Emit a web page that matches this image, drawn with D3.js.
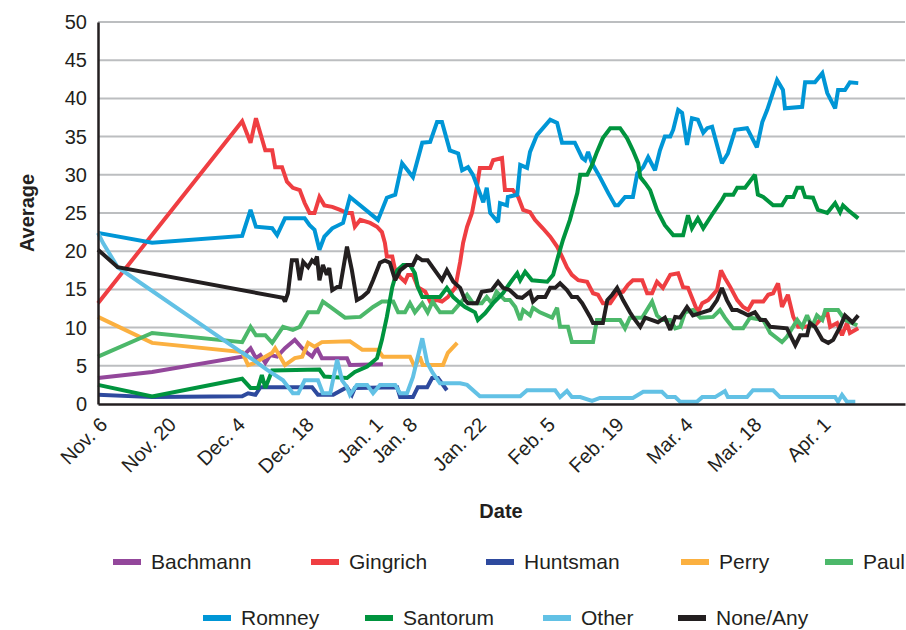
<!DOCTYPE html>
<html>
<head>
<meta charset="utf-8">
<script src="https://cdn.jsdelivr.net/npm/d3@7"></script>
<style>
  body { margin: 0; background: #fff; }
  svg { display: block; }
  text { font-family: "Liberation Sans", Arial, Helvetica, sans-serif; fill: #231f20; }
</style>
</head>
<body>
<script>
// x values are days since Nov. 6 (2011), y values are the poll average
var tickDays = [0, 14, 28, 42, 56, 63, 77, 91, 105, 119, 133, 147],
    tickLabels = ["Nov. 6", "Nov. 20", "Dec. 4", "Dec. 18", "Jan. 1", "Jan. 8", "Jan. 22",
                  "Feb. 5", "Feb. 19", "Mar. 4", "Mar. 18", "Apr. 1"],
    yTicks = [0, 5, 10, 15, 20, 25, 30, 35, 40, 45, 50];

var bachmann = [[0,3.4],[11,4.2],[29.3,6.2],[31,7.3],[32.1,6],[33,6.4],[34,5.4],[35,6.4],[36.4,6.2],
  [38,7.3],[40,8.4],[41.5,7.3],[42.5,6.7],[43.5,6.2],[44.5,7.3],[45.5,6],[50.6,6],[51.2,5.1],[57.9,5.2]];

var gingrich = [[0,13.2],[29.3,37],[31,34.2],[32.1,37.4],[34,33.2],[35.4,33.2],[36,31],[37.4,31],[38.4,29.1],
  [39.6,28.3],[41,28],[42,26.3],[43,25],[44,25],[45,27.1],[46,26],[47.6,25.8],[49.2,25.4],[50.6,25],[51.6,25],
  [52.2,23.2],[53.3,24.1],[55.3,23.7],[56.7,23.2],[57.7,22.5],[58.3,21.1],[58.7,19.3],[59.8,19.3],[60.4,17.5],
  [61.4,16.6],[62.4,16],[63,16.9],[64,16.9],[65,15.3],[66.5,14.7],[67.5,13.4],[68.9,13.6],[69.9,13.4],[71.1,14],
  [72.6,15.2],[73.6,18.6],[74.2,21.1],[75,23.2],[76,25],[77,28.4],[77.6,30.9],[79.7,30.9],[80.3,31.9],[82.1,32.2],
  [82.7,28],[84.3,28],[85.4,27.1],[86.4,25.4],[87.8,25.1],[88.8,24.1],[90.4,23],[91.9,21.9],[93.3,20.6],[94.3,19.3],
  [95.3,17.9],[96.3,16.9],[97.6,16.2],[99.4,16],[100.6,14.5],[101.6,14.3],[102.6,13.2],[104.1,13.2],[105.5,14.5],
  [106.7,14.7],[107.7,15.6],[108.7,16.2],[110.6,16.2],[111.6,14.5],[112.6,14.5],[113.6,16],[114.8,15.2],[116.3,16.9],
  [117.9,17.1],[118.9,15.3],[119.9,15.2],[120.9,13.6],[121.9,12],[122.8,13.2],[124,13.6],[125.8,14.9],[126.6,17.5],
  [127.4,16.5],[128.5,15.3],[129.9,13.6],[131.1,12.7],[132.1,12.3],[133.1,13.4],[135.2,13.4],[136.2,14.3],[137.2,14.5],
  [138.2,15.8],[139,12.7],[140.2,14.3],[141.3,11.4],[142.3,10.1],[143.7,10.1],[145.7,10.3],[148.2,12],[148.8,10.1],
  [150.2,10.6],[151.2,9],[152.2,10.6],[152.8,9.3],[154.5,9.9]];

var huntsman = [[0,1.2],[11,0.9],[29.3,1],[30.5,1.4],[32,1.2],[33,2.2],[43.5,2.2],[44.7,1.2],[47.8,1.2],[50.6,2.2],
  [51.6,1.2],[52.2,2.1],[60.8,2.2],[61.4,0.9],[64,0.9],[65,2.2],[66.9,2.2],[67.9,3.4],[69.1,3.4],[70.9,1.8]];

var perry = [[0,11.4],[11,8],[29.3,6.8],[30.5,5.1],[32,5.4],[34,6.2],[35.4,6.7],[36,7.3],[38,5.1],[40,6],[41.5,6.2],
  [42.7,8],[44,7.5],[45.5,8.1],[51.2,8.2],[53.7,7.1],[56.9,7.1],[57.9,6.2],[63.4,6.2],[64.4,4.8],[65.4,6.2],[66,5.1],
  [70.1,5.1],[71.1,6.7],[73,8]];

var paul = [[0,6.2],[11,9.3],[29.3,8.1],[31,10.1],[32.1,9],[34,9],[35.4,8],[37.6,10.1],[39.6,9.7],[41,10.1],[42.7,12],
  [44.7,12],[45.7,13.4],[47.2,12.7],[50.2,11.3],[53.3,11.4],[55.9,12.7],[57.7,13.4],[60,13.4],[61,12],[62.4,12],
  [63.4,13.2],[64.4,12],[65.9,13.2],[67,12],[68,13.4],[69.5,12],[72,12],[73.6,13.2],[75,14.3],[76.2,13.2],[78,13.2],
  [79,14],[80,13.2],[81,14.7],[82.7,13.6],[83.7,13.6],[84.8,12.7],[85.8,11],[86.4,12.3],[87.8,11.6],[88.4,12.6],
  [89.8,12],[92.3,11.3],[93.3,12.6],[93.9,10.1],[95.5,10.1],[96.3,8.1],[100.6,8.1],[101.4,11],[106.1,11],[107.1,9.9],
  [108.1,11.3],[110.6,11.3],[112.6,13.4],[113.6,11.6],[114.6,11],[116.3,11],[117.3,9.9],[118.3,10.1],[119.3,12],
  [120.9,12.3],[122.4,11.3],[125,11.4],[126.4,12.3],[127.4,11.3],[129.1,9.9],[131.1,9.9],[132.5,11.3],[135.2,11],
  [136.6,9.3],[139,8.1],[140,8.8],[142.1,11],[143.1,10.1],[144.1,11.6],[145.1,10.1],[146.1,11.6],[147.2,11],
  [147.8,12.3],[150.4,12.3],[151.8,11],[154.3,10.3]];

var romney = [[0,22.4],[11,21.1],[29.3,22],[31,25.4],[32.1,23.2],[35.4,23],[36.4,22.1],[38,24.3],[42,24.3],[43,23.4],
  [44,22.8],[45,20.2],[46,21.9],[47.6,23],[49.8,23.7],[51.2,27.1],[56.9,24.1],[58.7,27],[60.4,27.4],[61.8,31.5],
  [64,29.7],[65.9,34.2],[67.5,34.3],[68.9,36.9],[69.9,36.9],[71.5,33.2],[73.2,32.8],[74,30.6],[75.2,31],[76.2,30],
  [77.6,27.6],[78.3,26.4],[79,28.3],[79.7,25],[81.3,23.8],[81.7,26.3],[83.1,26],[83.3,27.1],[85.2,27.4],[85.8,31.3],
  [87.2,30.9],[87.8,33],[89.2,35.2],[91.9,37.2],[93.3,36.8],[94.3,34.2],[96.9,34.2],[98.4,32.2],[99,31.9],[99.6,33],
  [100.4,31.5],[102,29.7],[103.7,27.6],[105.1,26],[105.7,26],[107.1,27.1],[108.7,27.1],[109.6,30.2],[110.8,31],
  [111.8,32.3],[113.2,30.6],[114.2,33.2],[115.2,35],[116.3,35],[116.9,35.9],[117.9,38.5],[118.7,38.1],[119.7,33.9],
  [120.7,37.4],[121.9,37.2],[123,35.5],[123.8,36.1],[124.8,36.3],[126.8,31.5],[128,32.8],[129.5,35.9],[131.9,36.1],
  [133.9,33.6],[135,36.9],[136,38.5],[138,42.4],[139.2,41.1],[139.6,38.7],[143.1,38.9],[143.7,42.1],[145.7,42.1],
  [147.2,43.3],[148.2,40.7],[149.8,38.7],[150.4,41.1],[151.8,41.1],[152.8,42.1],[154.5,42]];

var santorum = [[0,2.5],[11,1],[29.3,3.3],[31,2.1],[32.5,2.1],[33.3,3.8],[34,2.1],[35.4,4.4],[45,4.5],[46,3.6],
  [50.6,3.4],[52.2,4.2],[54.7,4.9],[56.7,6],[57.7,8.4],[58.7,11.4],[59.8,15.3],[60.8,17.5],[62,18.2],[63.4,18.2],
  [64.4,17.1],[65,15.3],[65.9,14],[69.5,14],[70.9,15.2],[72.2,14],[73.6,13.2],[74.6,12.7],[76.6,12],[77.2,11],
  [78.7,11.9],[80.3,13.2],[82.3,14.5],[83.7,15.8],[85.2,17.1],[85.8,16.2],[86.8,17.3],[88.2,16.2],[91.3,16],
  [92.5,16.9],[93.5,19.3],[94.5,21.5],[95.9,24.1],[97.4,27.6],[98,30],[99.4,30],[100.4,31.3],[101.4,33],[102.6,34.8],
  [104.1,36.1],[106.1,36.1],[107.5,34.8],[108.7,33.2],[109.8,31.5],[110.2,29.7],[111.2,28.9],[112.2,28],[113.6,25.4],
  [115.2,23.4],[116.9,22.1],[118.9,22.1],[119.9,24.7],[120.7,23],[121.9,24.3],[123,23],[125,25],[126.8,26.7],
  [127.4,27.4],[129.1,27.4],[129.9,28.3],[131.5,28.3],[133.5,30],[134.1,27.4],[135.2,27.1],[137.2,26],[139,26],
  [140,27.1],[141.3,27.1],[142.1,28.3],[143.1,28.3],[143.7,27.1],[145.3,27],[146.3,25.4],[148.2,25],[149.8,26.3],
  [150.8,25.1],[151.4,26],[152.4,25.4],[154.5,24.3]];

var other = [[0,22.4],[1,21.1],[4,17.9],[29.1,6.8],[31.5,5.8],[34.3,4.5],[37.6,3.1],[39.6,1.4],[40.7,1.4],[42,3.1],
  [44.7,3.1],[45.7,1.4],[47.2,1.4],[48.6,5.8],[49.6,3.1],[50.6,2.2],[51.2,1.2],[52.6,2.5],[54.7,2.5],[55.9,1.4],
  [57.3,2.5],[60.4,2.5],[61.4,1.4],[62.8,1.4],[64,3.5],[65.9,8.6],[66.9,5.4],[68,4.1],[69.5,2.7],[73.6,2.7],[75,2.5],
  [77.6,1],[85.8,1],[87.2,1.8],[92.9,1.8],[93.9,0.9],[95.3,1.7],[96.3,0.9],[98,0.9],[100.4,0.4],[102,0.8],[108.7,0.8],
  [110.8,1.6],[114.6,1.6],[115.7,0.9],[117.3,0.9],[118.3,0.3],[121.7,0.3],[122.8,0.9],[125.4,0.9],[127.4,1.7],
  [128,0.9],[131.9,0.9],[133.1,1.8],[137.2,1.8],[138.6,0.9],[149.8,0.9],[150.4,0.3],[151.2,1.2],[152.2,0.3],[153.9,0.3]];

var noneAny = [[0,20.2],[4,17.9],[37.6,13.9],[38,13.4],[38.6,14.5],[39.4,18.8],[40.4,18.8],[41,16.2],[41.7,18.6],
  [42.7,17.9],[43.5,18.8],[44,18.5],[44.5,19.3],[45,16.2],[45.7,18.2],[46.5,16.9],[47,17.8],[47.6,14.9],[48.6,15.3],
  [49.2,15.3],[50.6,20.6],[51.6,17.5],[52.6,13.6],[53.7,14],[54.9,14.7],[55.9,16.2],[57.3,18.5],[58.3,18.8],
  [59.3,18.5],[60.4,16.2],[61.4,17.5],[62.8,18.2],[64,18.2],[64.8,19.3],[65.9,18.8],[67,18.8],[68.9,17.1],[69.9,16.2],
  [70.9,17.5],[72.2,16],[73.6,15.2],[74.6,13.6],[75.2,13.2],[77,13.2],[78,14.7],[80,14.9],[81.3,16],[82.3,15.2],
  [83.7,14.9],[85.2,14],[86.2,13.9],[87.8,14.7],[88.4,13.4],[89.4,14],[90.9,14],[91.9,15.2],[92.9,15.2],[93.9,15.8],
  [95.3,14.9],[96.3,14],[97.4,14],[98.4,13.2],[100,11.4],[100.6,10.6],[102.6,10.6],[103.5,13.6],[104.5,14.3],
  [105.5,15.2],[106.7,13.6],[108.1,12],[108.7,11.4],[110.2,10.1],[111.2,11.3],[113.8,10.7],[115.2,11.3],[116.3,9.7],
  [117.3,11.4],[118.3,11.3],[119.7,12.7],[120.9,11.6],[122.4,11.9],[124.4,12.3],[125.8,13.6],[126.8,15.2],[127.8,13.6],
  [128.9,12.3],[129.9,12.3],[130.9,12],[132.1,11.6],[133.5,12],[134.6,11],[135.6,11],[136.6,10.1],[140,9.9],
  [141.7,7.7],[142.7,9],[144.1,9],[144.7,10.6],[145.7,10.1],[147.2,8.4],[148.4,8],[149.4,8.4],[150.8,10.1],
  [151.8,11.6],[153.3,10.7],[154.5,11.6]];

var seriesNames = ["Bachmann", "Gingrich", "Huntsman", "Perry", "Paul", "Romney", "Santorum", "Other", "None/Any"],
    seriesData = [bachmann, gingrich, huntsman, perry, paul, romney, santorum, other, noneAny],
    seriesColors = ["#93479b", "#ef3e42", "#2e4a9e", "#fbb040", "#4cb86a", "#0096d6", "#00943e", "#62c1e5", "#231f20"];

var width = 906, height = 630,
    margin = { top: 22, right: 1, bottom: 226, left: 98 };

var svg = d3.select("body").append("svg")
    .attr("width", width).attr("height", height);

var x = d3.scaleLinear().domain([0, 164]).range([margin.left, width - margin.right]),
    y = d3.scaleLinear().domain([0, 50]).range([height - margin.bottom, margin.top]);

// gridlines
svg.append("g").selectAll("line")
    .data(yTicks.slice(1)).enter().append("line")
    .attr("x1", x(0)).attr("x2", x(164))
    .attr("y1", d => y(d)).attr("y2", d => y(d))
    .attr("stroke", "#bcbec0").attr("stroke-width", 2);

// lines
var lineFn = d3.line().x(d => x(d[0])).y(d => y(d[1]));
svg.append("g").selectAll("path")
    .data(seriesData).enter().append("path")
    .attr("d", d => lineFn(d))
    .attr("fill", "none")
    .attr("stroke", (d, i) => seriesColors[i])
    .attr("stroke-width", 4)
    .attr("stroke-linejoin", "miter")
    .attr("stroke-miterlimit", 2.5);

// axes
var yAxis = d3.axisLeft(y).tickValues(yTicks).tickSize(0).tickPadding(11);
var gy = svg.append("g").attr("transform", "translate(" + x(0) + ",0)").call(yAxis);
gy.select(".domain").attr("stroke", "#231f20").attr("stroke-width", 2.5);
gy.selectAll("text").style("font-size", "20px").attr("fill", "#231f20");

var xAxis = d3.axisBottom(x).tickValues(tickDays).tickSize(0).tickFormat((d, i) => tickLabels[i]);
var gx = svg.append("g").attr("transform", "translate(0," + y(0) + ")").call(xAxis);
gx.select(".domain").attr("stroke", "#231f20").attr("stroke-width", 2.5);
gx.selectAll(".tick text")
    .style("font-size", "20px").attr("fill", "#231f20")
    .attr("text-anchor", "end")
    .attr("y", 0).attr("dy", 0)
    .attr("transform", "translate(10,22) rotate(-45)");

// axis titles
svg.append("text")
    .attr("transform", "translate(34," + ((y(0) + y(50)) / 2) + ") rotate(-90)")
    .attr("text-anchor", "middle")
    .style("font-size", "20px").style("font-weight", "bold")
    .text("Average");
svg.append("text")
    .attr("x", 501).attr("y", 518)
    .attr("text-anchor", "middle")
    .style("font-size", "20px").style("font-weight", "bold")
    .text("Date");

// legend: two centred rows
var legendRows = [[0, 1, 2, 3, 4], [5, 6, 7, 8]],
    rowX = [[113, 311, 486, 681, 825], [203, 365, 543, 678]],
    rowY = [562, 618];

legendRows.forEach(function(row, r) {
  row.forEach(function(k, j) {
    var g = svg.append("g").attr("transform", "translate(" + rowX[r][j] + "," + rowY[r] + ")");
    g.append("rect").attr("x", 0).attr("y", -3).attr("width", 28).attr("height", 6)
        .attr("fill", seriesColors[k]);
    g.append("text").attr("x", 38).attr("y", 7)
        .style("font-size", "21px")
        .text(seriesNames[k]);
  });
});
</script>
</body>
</html>
